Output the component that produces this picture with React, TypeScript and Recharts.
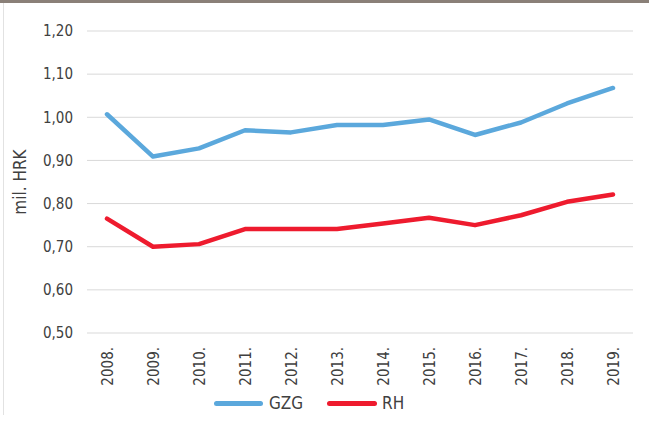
import React from 'react';
import { LineChart, Line, XAxis, YAxis, CartesianGrid, Legend } from 'recharts';

const years = ['2008.', '2009.', '2010.', '2011.', '2012.', '2013.', '2014.', '2015.', '2016.', '2017.', '2018.', '2019.'];
const gzg = [1.007, 0.909, 0.928, 0.970, 0.965, 0.982, 0.982, 0.995, 0.959, 0.988, 1.032, 1.068];
const rh = [0.765, 0.700, 0.706, 0.741, 0.741, 0.741, 0.754, 0.767, 0.750, 0.773, 0.804, 0.821];
const yTicks = [0.5, 0.6, 0.7, 0.8, 0.9, 1.0, 1.1, 1.2];

const data = years.map((y, i) => ({ year: y, GZG: gzg[i], RH: rh[i] }));

const FONT = "'Liberation Sans Narrow', 'DejaVu Sans Condensed', 'Roboto Condensed', sans-serif";
const TEXT = '#404040';
const BLUE = '#5BA8DC';
const RED = '#EE1B2E';

const fmt = (v: number) => v.toFixed(2).replace('.', ',');

const LegendContent = () => (
  <div style={{ display: 'flex', alignItems: 'center', fontFamily: FONT, fontSize: 17, color: TEXT, whiteSpace: 'nowrap' }}>
    <span style={{ display: 'inline-block', width: 49, height: 5, borderRadius: 3, background: BLUE, marginRight: 6 }} />
    <span style={{ display: 'inline-block', width: 35, marginRight: 23 }}>GZG</span>
    <span style={{ display: 'inline-block', width: 50, height: 5, borderRadius: 3, background: RED, marginRight: 5 }} />
    <span>RH</span>
  </div>
);

export default function App() {
  return (
    <div style={{ position: 'absolute', left: 0, top: 0, width: 649, height: 421, background: '#fff', overflow: 'hidden' }}>
      <div style={{ position: 'absolute', left: 0, top: 0, width: 649, height: 3, background: '#8A8078' }} />
      <div style={{ position: 'absolute', left: 3, top: 3, width: 1, height: 412, background: '#E2E2E2' }} />
      <LineChart width={649} height={421} data={data} margin={{ top: 31, right: 16, left: 0, bottom: 0 }}>
        <CartesianGrid vertical={false} stroke="#D9D9D9" strokeWidth={1} />
        <XAxis
          dataKey="year"
          axisLine={false}
          tickLine={false}
          interval={0}
          height={88}
          padding={{ left: 20, right: 20 }}
          angle={-90}
          textAnchor="end"
          tickMargin={8}
          tick={{ fill: TEXT, fontSize: 15, fontFamily: FONT, dx: -5 }}
        />
        <YAxis
          domain={[0.5, 1.2]}
          ticks={yTicks}
          width={87}
          axisLine={false}
          tickLine={false}
          tickMargin={8}
          tickFormatter={fmt}
          tick={{ fill: TEXT, fontSize: 15, fontFamily: FONT }}
          label={{ value: 'mil. HRK', angle: -90, position: 'insideLeft', offset: 20, style: { textAnchor: 'middle', fill: TEXT, fontSize: 17, fontFamily: FONT } }}
        />
        <Line type="linear" dataKey="GZG" stroke={BLUE} strokeWidth={4.5} dot={false} strokeLinecap="round" strokeLinejoin="round" isAnimationActive={false} />
        <Line type="linear" dataKey="RH" stroke={RED} strokeWidth={4.5} dot={false} strokeLinecap="round" strokeLinejoin="round" isAnimationActive={false} />
        <Legend verticalAlign="middle" content={LegendContent} wrapperStyle={{ top: 393, left: 214, width: 'auto' }} />
      </LineChart>
    </div>
  );
}
